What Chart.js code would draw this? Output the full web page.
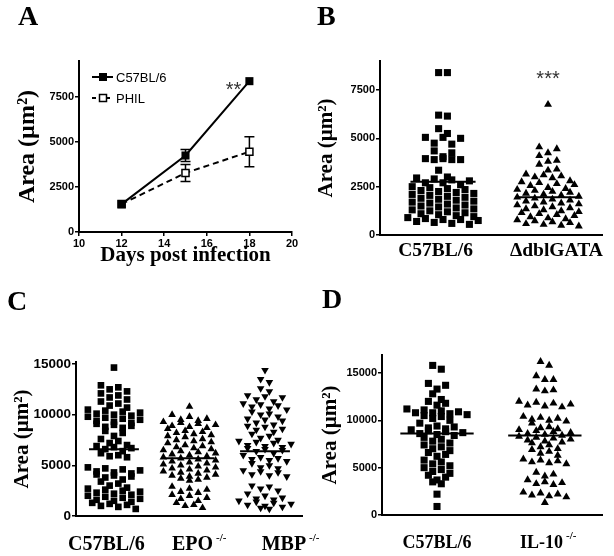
<!DOCTYPE html>
<html>
<head>
<meta charset="utf-8">
<script src="https://cdn.jsdelivr.net/npm/chart.js@4/dist/chart.umd.min.js"></script>
<style>
  body { margin: 0; background: #fff; width: 614px; height: 556px; position: relative; overflow: hidden; }
  canvas { position: absolute; }
</style>
</head>
<body>
<canvas id="chartA" width="307" height="278" style="left:0;top:0"></canvas>
<canvas id="chartB" width="307" height="278" style="left:307px;top:0"></canvas>
<canvas id="chartC" width="330" height="278" style="left:0;top:278px"></canvas>
<canvas id="chartD" width="307" height="278" style="left:307px;top:278px"></canvas>
<script>
// A: lesion area over days post infection (mean +/- SEM)
const daysA = [12, 15, 18];
const dayTicksA = [10, 12, 14, 16, 18, 20];
const areaTicksA = [0, 2500, 5000, 7500];
const c57A = [1550, 4250, 8380];
const c57ErrA = [0, 330, 0];
const philA = [1550, 3280, 4460];
const philErrA = [0, 470, 830];

// B: C57BL/6 vs dblGATA
const catsB = ['C57BL/6', 'ΔdblGATA'];
const areaTicksB = [0, 2500, 5000, 7500];
const c57B = [8400, 8400, 6200, 6150, 5500, 5250, 5050, 5050, 5000, 4750, 4700, 4350, 4250, 4050,
  3950, 3950, 3900, 3900, 3900, 3350, 3000, 2950, 2900, 2850, 2800, 2700, 2700, 2600, 2500, 2450,
  2400, 2350, 2300, 2250, 2200, 2150, 2100, 2050, 2000, 1950, 1900, 1850, 1800, 1750, 1700, 1650,
  1600, 1550, 1500, 1450, 1400, 1350, 1300, 1250, 1200, 1150, 1100, 1050, 1000, 950, 900, 850,
  800, 800, 750, 700, 650, 600, 550];
const dblB = [6750, 4550, 4450, 4250, 4100, 3850, 3800, 3650, 3400, 3350, 3150, 3100, 3050, 3000,
  2950, 2800, 2750, 2700, 2650, 2600, 2550, 2450, 2400, 2350, 2300, 2250, 2200, 2150, 2100, 2050,
  2000, 1950, 1900, 1850, 1800, 1750, 1700, 1650, 1600, 1550, 1500, 1450, 1400, 1350, 1300, 1250,
  1200, 1150, 1100, 1050, 1000, 940, 880, 830, 780, 730, 680, 630, 580, 540, 500, 460];
const meansB = [2750, 1950];

// C: C57BL/6 vs EPO-/- vs MBP-/-
const catsC = ['C57BL/6', 'EPO', 'MBP'];
const supC = ['', '-/-', '-/-'];
const areaTicksC = [0, 5000, 10000, 15000];
const c57C = [14650, 12900, 12700, 12500, 12300, 12100, 11900, 11700, 11500, 11300, 11100, 10900,
  10700, 10500, 10400, 10300, 10200, 10100, 10000, 9900, 9800, 9700, 9600, 9500, 9400, 9300, 9200,
  9100, 9000, 8900, 8800, 8700, 8400, 8200, 7900, 7600, 7400, 7200, 7000, 6900, 6800, 6700, 6600,
  6400, 6200, 6000, 5900, 5800, 4800, 4700, 4600, 4500, 4400, 4300, 4200, 4100, 4000, 3900, 3800,
  3600, 3400, 3200, 3000, 2800, 2700, 2600, 2500, 2400, 2300, 2200, 2100, 2000, 1900, 1800, 1700,
  1600, 1500, 1400, 1300, 1200, 1100, 1000, 900, 700];
const epoC = [10800, 10000, 9800, 9600, 9500, 9400, 9300, 9200, 9100, 9000, 8900, 8800, 8700, 8600,
  8400, 8300, 8200, 8100, 8000, 7900, 7800, 7600, 7500, 7400, 7300, 7200, 7000, 6900, 6800, 6700,
  6600, 6500, 6400, 6300, 6200, 6100, 6000, 5900, 5800, 5700, 5600, 5500, 5400, 5300, 5200, 5100,
  5000, 4900, 4800, 4700, 4600, 4500, 4400, 4300, 4200, 4100, 4000, 3900, 3800, 3700, 3600, 3500,
  2900, 2700, 2600, 2400, 2300, 2100, 2000, 1800, 1700, 1500, 1300, 1100, 1000, 800];
const mbpC = [14400, 13500, 13200, 12600, 12300, 11900, 11800, 11700, 11500, 11300, 11100, 11000,
  10900, 10800, 10600, 10500, 10300, 10100, 10000, 9800, 9600, 9500, 9400, 9200, 9000, 8900, 8800,
  8600, 8500, 8300, 8100, 7900, 7700, 7500, 7400, 7300, 7200, 7100, 7000, 6900, 6800, 6700, 6600,
  6500, 6400, 6200, 6000, 5800, 5700, 5600, 5500, 5400, 5200, 5000, 4800, 4700, 4500, 4400, 4300,
  4100, 4000, 3900, 3000, 2900, 2700, 2500, 2200, 2000, 1800, 1700, 1600, 1500, 1400, 1300, 1200,
  1100, 1000, 900, 800, 700];
const meansC = [6600, 5700, 6400];

// D: C57BL/6 vs IL-10-/-
const catsD = ['C57BL/6', 'IL-10'];
const supD = ['', '-/-'];
const areaTicksD = [0, 5000, 10000, 15000];
const c57D = [15800, 15400, 13900, 13700, 13300, 12800, 12200, 12000, 11800, 11600, 11200, 11100,
  11000, 10900, 10800, 10800, 10700, 10600, 10500, 10400, 10200, 10000, 9700, 9400, 9300, 9200,
  9100, 9000, 8900, 8800, 8700, 8600, 8500, 8400, 8200, 8000, 7800, 7600, 7400, 7200, 7000, 6800,
  6600, 6400, 6200, 5800, 5600, 5400, 5200, 5000, 4800, 4600, 4400, 4200, 4000, 3700, 3500, 3300,
  2200, 900];
const il10D = [16200, 15800, 14700, 14300, 14300, 13300, 13200, 13100, 12000, 11900, 11800, 11700,
  11600, 11500, 11400, 10400, 10300, 10200, 10100, 10000, 9900, 9700, 9300, 9200, 9100, 9000, 8900,
  8800, 8700, 8600, 8500, 8400, 8300, 8200, 8100, 8000, 7900, 7800, 7700, 7600, 7400, 7200, 7000,
  6900, 6700, 6500, 6300, 5900, 5800, 5700, 5600, 5500, 5400, 4500, 4300, 4100, 3700, 3500, 3400,
  3300, 3200, 2400, 2300, 2200, 2100, 2000, 1900, 1300];
const meansD = [8600, 8400];

const SANS = '"Liberation Sans", Arial, sans-serif';
const SERIF = '"Liberation Serif", "Times New Roman", serif';

// draws panel letter, category labels, stars, legend and error bars
const deco = {
  id: 'deco',
  beforeDatasetsDraw(chart, args, o) {
    if (!o.errors) return;
    const ctx = chart.ctx, xs = chart.scales.x, ys = chart.scales.y;
    ctx.save();
    ctx.strokeStyle = '#000';
    ctx.lineWidth = 1.5;
    o.errors.forEach(e => {
      e.x.forEach((xv, i) => {
        if (!e.err[i]) return;
        const px = xs.getPixelForValue(xv);
        const hi = ys.getPixelForValue(e.y[i] + e.err[i]);
        const lo = ys.getPixelForValue(e.y[i] - e.err[i]);
        ctx.beginPath();
        ctx.moveTo(px, hi); ctx.lineTo(px, lo);
        ctx.moveTo(px - 5, hi); ctx.lineTo(px + 5, hi);
        ctx.moveTo(px - 5, lo); ctx.lineTo(px + 5, lo);
        ctx.stroke();
      });
    });
    ctx.restore();
  },
  afterDraw(chart, args, o) {
    const ctx = chart.ctx, xs = chart.scales.x, ys = chart.scales.y;
    ctx.save();
    ctx.fillStyle = '#000';
    ctx.textBaseline = 'alphabetic';
    ctx.textAlign = 'left';
    ctx.font = 'bold 28px ' + SERIF;
    ctx.fillText(o.letter, o.letterX, o.letterY);

    if (o.cats) {
      o.cats.forEach((c, i) => {
        const px = xs.getPixelForValue(o.labelAt[i]);
        ctx.font = 'bold ' + o.catSize + 'px ' + SERIF;
        const w = ctx.measureText(c).width;
        ctx.textAlign = 'center';
        ctx.fillText(c, px, o.catY);
        const sup = o.sups ? o.sups[i] : '';
        if (sup) {
          ctx.textAlign = 'left';
          ctx.font = 'bold 11px ' + SERIF;
          ctx.fillText(sup, px + w / 2 + 3, o.catY - 9);
        }
      });
    }

    (o.stars || []).forEach(s => {
      ctx.font = '20px ' + SANS;
      ctx.fillStyle = '#333';
      ctx.textAlign = 'center';
      ctx.fillText(s.text, xs.getPixelForValue(s.x), ys.getPixelForValue(s.y) + 11);
    });

    if (o.legend) {
      ctx.fillStyle = '#000';
      o.legend.forEach(l => {
        ctx.strokeStyle = '#000';
        ctx.lineWidth = 2;
        ctx.setLineDash(l.dash);
        ctx.beginPath();
        ctx.moveTo(92, l.y); ctx.lineTo(113, l.y);
        ctx.stroke();
        ctx.setLineDash([]);
        if (l.filled) {
          ctx.fillRect(99, l.y - 4, 8, 8);
        } else {
          ctx.fillStyle = '#fff';
          ctx.fillRect(99.5, l.y - 3.5, 7, 7);
          ctx.lineWidth = 1.5;
          ctx.strokeRect(99.5, l.y - 3.5, 7, 7);
          ctx.fillStyle = '#000';
        }
        ctx.font = '13px ' + SANS;
        ctx.textAlign = 'left';
        ctx.textBaseline = 'middle';
        ctx.fillText(l.text, 116, l.y + 1);
        ctx.textBaseline = 'alphabetic';
      });
    }
    ctx.restore();
  }
};
Chart.register(deco);

function yAxis(max, ticks, tickSize, titleSize, titlePad, width) {
  return {
    type: 'linear', min: 0, max: max,
    afterBuildTicks: s => { s.ticks = ticks.map(v => ({ value: v })); },
    afterFit: s => { s.width = width; },
    grid: { display: true, drawOnChartArea: false, drawTicks: true, tickLength: 4, color: '#000', lineWidth: 1.5 },
    border: { display: true, color: '#000', width: 2 },
    ticks: { color: '#000', padding: 1, font: { family: SANS, size: tickSize, weight: 'bold' }, callback: v => String(v) },
    title: { display: true, text: 'Area (µm²)', color: '#000',
      font: { family: SERIF, size: titleSize, weight: 'bold' }, padding: { top: titlePad, bottom: 0 } }
  };
}

function catAxis(min, max, height) {
  return {
    type: 'linear', min: min, max: max,
    afterFit: s => { s.height = height; },
    grid: { display: false },
    border: { display: true, color: '#000', width: 2 },
    ticks: { display: false }
  };
}

const baseOpts = {
  responsive: false,
  animation: false,
  events: [],
};

// column scatter: points close in value share a row and are spread sideways in it
function spread(chart, groups, stepPx, rowPx) {
  const xs = chart.scales.x, ys = chart.scales.y;
  const unit = xs.getPixelForValue(1) - xs.getPixelForValue(0);
  groups.forEach((vals, i) => {
    const pts = [];
    let row = [];
    const flush = () => {
      const n = row.length;
      // interleave slots so the row does not slope
      const slots = [];
      for (let s = 0; s < n; s += 2) slots.push(s);
      for (let s = 1; s < n; s += 2) slots.push(s);
      row.forEach((v, j) => {
        pts.push({ x: i + (slots[j] - (n - 1) / 2) * stepPx / unit, y: v });
      });
      row = [];
    };
    vals.slice().sort((a, b) => b - a).forEach(v => {
      if (row.length && ys.getPixelForValue(v) - ys.getPixelForValue(row[0]) > rowPx) flush();
      row.push(v);
    });
    flush();
    chart.data.datasets[i].data = pts;
  });
  chart.update('none');
}

function meanSet(means, half) {
  return means.map((m, i) => ({
    data: [{ x: i - half, y: m }, { x: i + half, y: m }],
    showLine: true, borderColor: '#000', borderWidth: 2, pointRadius: 0, clip: false
  }));
}

function dotSet(style, radius, rotation) {
  return { data: [], pointStyle: style, pointRadius: radius, pointRotation: rotation || 0,
    backgroundColor: '#000', borderColor: '#000', borderWidth: 0, clip: false };
}

// ---- A ----
new Chart(document.getElementById('chartA'), {
  type: 'scatter',
  data: {
    datasets: [
      { label: 'C57BL/6', data: daysA.map((d, i) => ({ x: d, y: c57A[i] })), showLine: true,
        borderColor: '#000', borderWidth: 2, pointStyle: 'rect', pointRadius: 5.7,
        pointBackgroundColor: '#000', pointBorderColor: '#000', pointBorderWidth: 0, clip: false },
      { label: 'PHIL', data: daysA.map((d, i) => ({ x: d, y: philA[i] })), showLine: true,
        borderColor: '#000', borderWidth: 2, borderDash: [6, 4], pointStyle: 'rect', pointRadius: 5,
        pointBackgroundColor: '#fff', pointBorderColor: '#000', pointBorderWidth: 1.5, clip: false }
    ]
  },
  options: {
    ...baseOpts,
    layout: { padding: { left: 0, top: 61, right: 15, bottom: 0 } },
    scales: {
      x: {
        type: 'linear', min: 10, max: 20,
        afterBuildTicks: s => { s.ticks = dayTicksA.map(v => ({ value: v })); },
        afterFit: s => { s.height = 46; },
        grid: { display: true, drawOnChartArea: false, drawTicks: true, tickLength: 4, color: '#000', lineWidth: 1.5 },
        border: { display: true, color: '#000', width: 2 },
        ticks: { color: '#000', padding: 1, font: { family: SANS, size: 11, weight: 'bold' } },
        title: { display: true, text: 'Days post infection', color: '#000',
          font: { family: SERIF, size: 21, weight: 'bold' }, padding: { top: 0, bottom: 10 } }
      },
      y: yAxis(9500, areaTicksA, 11, 24, 13, 79)
    },
    plugins: {
      legend: { display: false }, tooltip: { enabled: false },
      deco: {
        letter: 'A', letterX: 18, letterY: 25,
        stars: [{ text: '**', x: 17.25, y: 8150 }],
        legend: [
          { text: 'C57BL/6', y: 77, dash: [], filled: true },
          { text: 'PHIL', y: 98, dash: [4, 3], filled: false }
        ],
        errors: [
          { x: daysA, y: c57A, err: c57ErrA },
          { x: daysA, y: philA, err: philErrA }
        ]
      }
    }
  }
});

// ---- B ----
const chartB = new Chart(document.getElementById('chartB'), {
  type: 'scatter',
  data: { datasets: [dotSet('rect', 5), dotSet('triangle', 4.6), ...meanSet(meansB, 0.31)] },
  options: {
    ...baseOpts,
    layout: { padding: { left: 0, top: 61, right: 12, bottom: 0 } },
    scales: { x: catAxis(-0.6, 1.514, 43), y: yAxis(9000, areaTicksB, 11, 21, 7, 73) },
    plugins: {
      legend: { display: false }, tooltip: { enabled: false },
      deco: {
        letter: 'B', letterX: 10, letterY: 25,
        cats: catsB, labelAt: [-0.07, 1.08], catSize: 19.5, catY: 256,
        stars: [{ text: '***', x: 1.0, y: 8350 }]
      }
    }
  }
});
spread(chartB, [c57B, dblB], 8.8, 7);

// ---- C ----
const chartC = new Chart(document.getElementById('chartC'), {
  type: 'scatter',
  data: { datasets: [dotSet('rect', 4.7), dotSet('triangle', 4.4), dotSet('triangle', 4.4, 180), ...meanSet(meansC, 0.33)] },
  options: {
    ...baseOpts,
    layout: { padding: { left: 0, top: 84, right: 28, bottom: 0 } },
    scales: { x: catAxis(-0.503, 2.49, 40), y: yAxis(15200, areaTicksC, 13.5, 21, 10, 76) },
    plugins: {
      legend: { display: false }, tooltip: { enabled: false },
      deco: {
        letter: 'C', letterX: 7, letterY: 32,
        cats: catsC, sups: supC, labelAt: [-0.1, 1.04, 2.25], catSize: 20, catY: 272
      }
    }
  }
});
spread(chartC, [c57C, epoC, mbpC], 8.7, 6.5);

// ---- D ----
const chartD = new Chart(document.getElementById('chartD'), {
  type: 'scatter',
  data: { datasets: [dotSet('rect', 5), dotSet('triangle', 4.6), ...meanSet(meansD, 0.34)] },
  options: {
    ...baseOpts,
    layout: { padding: { left: 0, top: 77, right: 12, bottom: 0 } },
    scales: { x: catAxis(-0.51, 1.53, 41), y: yAxis(16900, areaTicksD, 11, 21, 11, 75) },
    plugins: {
      legend: { display: false }, tooltip: { enabled: false },
      deco: {
        letter: 'D', letterX: 15, letterY: 30,
        cats: catsD, sups: supD, labelAt: [0, 0.97], catSize: 18, catY: 270
      }
    }
  }
});
spread(chartD, [c57D, il10D], 8.6, 6.5);
</script>
</body>
</html>
